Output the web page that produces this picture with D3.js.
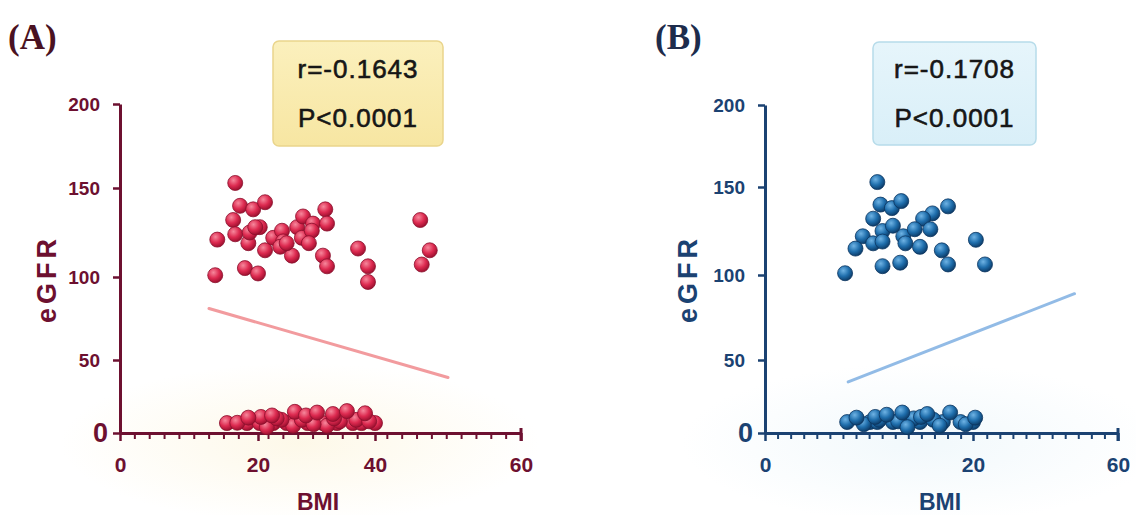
<!DOCTYPE html>
<html lang="en">
<head>
  <meta charset="UTF-8">
  <title>eGFR vs BMI</title>
  <script src="https://d3js.org/d3.v7.min.js"></script>
  <style>
    body { margin: 0; background: #fff; }
    svg { display: block; font-family: "Liberation Sans", Arial, sans-serif; }
    .tick text { font-weight: bold; }
  </style>
</head>
<body>
  <svg id="chart" width="1136" height="515"></svg>

  <script>
    // ---- data ----
    const yTicks = [0, 50, 100, 150, 200];
    const xTicksA = [0, 20, 40, 60];
    const xTicksB = [0, 20, 60];

    // panel A (red)
    const bmiA = [16.7, 17.4, 19.3, 21.2, 16.4, 16.7, 14.1, 18.6, 18.8, 20.3, 21.2, 22.6, 24.1, 24.3, 25.8,
                  26.7, 27.7, 27.5, 29.4, 29.2, 31.5, 31.8, 31.1, 31.8, 37.1, 38.8, 38.8, 46.2, 47.5, 46.4,
                  13.8, 18.1, 20.0, 23.8, 24.9, 19.6, 28.7,
                  15.5, 18.4, 20.3, 22.6, 24.9, 28.5, 31.1, 33.5, 36.2, 37.7, 40.0,
                  17.0, 21.5, 26.0, 31.8, 20.5, 24.0, 27.5, 29.5, 34.0, 36.8, 23.2, 33.0, 39.0,
                  18.6, 22.4, 26.3, 28.2, 30.1, 32.8, 35.2, 38.3];
    const egfrA = [153, 140, 138, 142, 132, 124, 121, 119, 125, 128, 115, 122, 126, 120, 112,
                   128, 134, 122, 130, 126, 138, 130, 112, 106, 116, 106, 97, 132, 115, 107,
                   101, 105, 102, 117, 119, 128, 119,
                   6.8, 6.8, 6.8, 6.8, 6.8, 6.8, 6.8, 6.8, 6.8, 6.8, 6.8,
                   7, 4, 5, 5, 11, 9, 9, 6, 8, 9, 10, 10, 8,
                   10.5, 12, 14.5, 12, 14, 13, 15, 13.5];
    const fitBmiA = [12.9, 50];
    const fitEgfrA = [81, 38];

    // panel B (blue)
    const bmiB = [10.8, 11.1, 12.2, 13.1, 17.6, 10.4, 16.1, 15.2, 9.4, 8.7, 10.4, 11.3, 12.3, 13.3, 13.5,
                  14.4, 15.9, 14.9, 17.0, 17.6, 20.8, 23.3, 7.7, 11.3, 13.0, 11.3,
                  7.9, 10.1, 10.8, 12.3, 13.7, 14.9, 17.1, 18.8, 20.0,
                  9.5, 11.0, 12.8, 14.3, 16.2, 19.3, 16.8, 13.7, 10.6, 15.0,
                  8.8, 11.7, 13.2, 15.6, 17.8, 20.6];
    const egfrB = [153, 140, 138, 142, 139, 132, 135, 132, 122, 115, 118, 125, 128, 122, 118,
                   126, 126, 116, 114, 106, 120, 106, 101, 105, 107, 119,
                   7.5, 7.5, 7.5, 7.5, 7.5, 7.5, 7.5, 7.5, 7.5,
                   6, 9, 8, 10, 9, 6, 5, 4, 11, 11,
                   10.5, 12.5, 14, 13, 14, 10.5];
    const fitBmiB = [8, 48];
    const fitEgfrB = [35, 89];

    const svg = d3.select("#chart");
    const defs = svg.append("defs");

    function sphere(id, hi, mid, dark) {
      const g = defs.append("radialGradient").attr("id", id)
        .attr("cx", "38%").attr("cy", "32%").attr("r", "70%");
      g.append("stop").attr("offset", "0%").attr("stop-color", hi);
      g.append("stop").attr("offset", "55%").attr("stop-color", mid);
      g.append("stop").attr("offset", "100%").attr("stop-color", dark);
    }
    sphere("ballA", "#f6889c", "#dd2a50", "#9a0f2e");
    sphere("ballB", "#6fb3e4", "#1f6eac", "#0c3a66");

    function glow(id, c) {
      const g = defs.append("radialGradient").attr("id", id);
      g.append("stop").attr("offset", "0%").attr("stop-color", c).attr("stop-opacity", 0.55);
      g.append("stop").attr("offset", "100%").attr("stop-color", c).attr("stop-opacity", 0);
    }
    glow("glowA", "#fcf3d6");
    glow("glowB", "#e6f3f9");

    function boxFill(id, c1, c2) {
      const g = defs.append("linearGradient").attr("id", id)
        .attr("x1", 0).attr("y1", 0).attr("x2", 0).attr("y2", 1);
      g.append("stop").attr("offset", "0%").attr("stop-color", c1);
      g.append("stop").attr("offset", "100%").attr("stop-color", c2);
    }
    boxFill("boxA", "#fbf0bd", "#f7e6a2");
    boxFill("boxB", "#e6f5fb", "#d9eff8");

    function drawPanel(p) {
      const x = d3.scaleLinear().domain(p.xDomain).range(p.xRange);
      const y = d3.scaleLinear().domain(yTicks).range(p.yRange);
      const x0 = p.xRange[0], x1 = p.xRange[p.xRange.length - 1];
      const yBase = p.yRange[0];

      // soft glow behind the bottom
      svg.append("ellipse")
        .attr("cx", (x0 + x1) / 2 - 20).attr("cy", yBase + 10)
        .attr("rx", 240).attr("ry", 80)
        .attr("fill", `url(#${p.glow})`);

      // panel letter
      svg.append("text")
        .attr("x", p.letterX).attr("y", 49)
        .attr("font-family", "'Liberation Serif', 'Times New Roman', serif")
        .attr("font-weight", "bold").attr("font-size", 35)
        .attr("fill", p.letterColor)
        .text(p.letter);

      // r / P box
      const box = svg.append("g");
      box.append("rect")
        .attr("x", p.box[0]).attr("y", p.box[1])
        .attr("width", p.box[2]).attr("height", p.box[3])
        .attr("rx", 6)
        .attr("fill", `url(#${p.boxFill})`)
        .attr("stroke", p.boxStroke).attr("stroke-width", 1.5);
      const cx = p.box[0] + p.box[2] / 2;
      [[p.rText, 78], [p.pText, 127]].forEach(([t, by]) => {
        box.append("text")
          .attr("x", cx).attr("y", by)
          .attr("text-anchor", "middle")
          .attr("font-size", 26).attr("letter-spacing", 1)
          .attr("fill", "#161616")
          .attr("stroke", "#161616").attr("stroke-width", 0.6)
          .text(t);
      });

      // y axis
      const yAxis = svg.append("g")
        .attr("transform", `translate(${x0},0)`)
        .call(d3.axisLeft(y).tickValues(yTicks).tickSize(7).tickSizeOuter(0).tickPadding(13));
      yAxis.select(".domain").attr("stroke", p.color).attr("stroke-width", 3);
      yAxis.selectAll(".tick line").attr("stroke", p.color).attr("stroke-width", 2.5);
      yAxis.selectAll(".tick text")
        .attr("fill", p.color).attr("font-size", d => d === 0 ? 27 : 19)
        .attr("dx", d => d === 0 ? 8 : 0);

      // x axis: majors + uniform minor ticks
      const xAxis = svg.append("g")
        .attr("transform", `translate(0,${yBase})`)
        .call(d3.axisBottom(x).tickValues(p.xTicks).tickSize(8).tickSizeOuter(0).tickPadding(16));
      xAxis.select(".domain").attr("stroke", p.color).attr("stroke-width", 3);
      xAxis.selectAll(".tick line").attr("stroke", p.color).attr("stroke-width", 2.5);
      xAxis.selectAll(".tick text").attr("fill", p.color).attr("font-size", 21);

      const nMinor = 27;
      const minor = d3.scaleLinear().domain([0, nMinor]).range([x0, x1]);
      xAxis.selectAll(".minor")
        .data(d3.range(1, nMinor + 1).map(minor)
          .filter(px => p.xTicks.every(t => Math.abs(x(t) - px) > 5)))
        .join("line")
        .attr("class", "minor")
        .attr("x1", d => d).attr("x2", d => d)
        .attr("y1", 0).attr("y2", 6)
        .attr("stroke", p.color).attr("stroke-width", 2);
      // end cap
      xAxis.append("line")
        .attr("x1", x1).attr("x2", x1).attr("y1", -5).attr("y2", 8)
        .attr("stroke", p.color).attr("stroke-width", 3);

      // axis titles
      svg.append("text")
        .attr("transform", `translate(${p.yTitleX},279) rotate(-90)`)
        .attr("text-anchor", "middle").attr("dy", "0.35em")
        .attr("font-weight", "bold").attr("font-size", 27).attr("letter-spacing", 4)
        .attr("fill", p.color)
        .text("eGFR");
      svg.append("text")
        .attr("x", p.xTitleX).attr("y", 510)
        .attr("text-anchor", "middle")
        .attr("font-weight", "bold").attr("font-size", 23)
        .attr("fill", p.color)
        .text("BMI");

      // regression line
      svg.append("line")
        .attr("x1", x(p.fitX[0])).attr("y1", y(p.fitY[0]))
        .attr("x2", x(p.fitX[1])).attr("y2", y(p.fitY[1]))
        .attr("stroke", p.lineColor).attr("stroke-width", 3)
        .attr("stroke-linecap", "round").attr("opacity", 0.85);

      // points
      svg.append("g").selectAll("circle")
        .data(d3.zip(p.bmi, p.egfr))
        .join("circle")
        .attr("cx", d => x(d[0])).attr("cy", d => y(d[1]))
        .attr("r", 7.5)
        .attr("fill", `url(#${p.ball})`)
        .attr("stroke", p.ballStroke).attr("stroke-width", 0.8);
    }

    drawPanel({
      letter: "(A)", letterX: 8, letterColor: "#4a1222",
      color: "#6d1030", lineColor: "#f08a8e",
      xDomain: xTicksA, xRange: [120, 258, 375, 521], xTicks: xTicksA,
      yRange: [433, 360, 277, 188, 104],
      box: [273, 41, 170, 105], boxFill: "boxA", boxStroke: "#ead58c",
      rText: "r=-0.1643", pText: "P<0.0001",
      yTitleX: 47, xTitleX: 318,
      bmi: bmiA, egfr: egfrA, fitX: fitBmiA, fitY: fitEgfrA,
      ball: "ballA", ballStroke: "#8a0f2c", glow: "glowA"
    });

    drawPanel({
      letter: "(B)", letterX: 655, letterColor: "#1d2c4c",
      color: "#1b4272", lineColor: "#7fb0e2",
      xDomain: xTicksB, xRange: [765, 973, 1118], xTicks: xTicksB,
      yRange: [433, 360, 275, 187, 105],
      box: [873, 42, 163, 103], boxFill: "boxB", boxStroke: "#b7dcea",
      rText: "r=-0.1708", pText: "P<0.0001",
      yTitleX: 688, xTitleX: 940,
      bmi: bmiB, egfr: egfrB, fitX: fitBmiB, fitY: fitEgfrB,
      ball: "ballB", ballStroke: "#0b3560", glow: "glowB"
    });
  </script>
</body>
</html>
